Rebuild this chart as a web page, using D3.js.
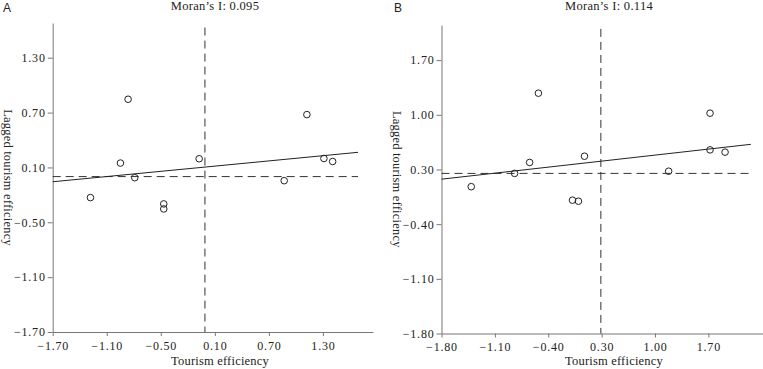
<!DOCTYPE html>
<html>
<head>
<meta charset="utf-8">
<script src="https://cdn.jsdelivr.net/npm/d3@7"></script>
<style>
  body { margin: 0; background: #fff; }
  text { font-family: "Liberation Serif", "Times New Roman", serif; fill: #222; }
</style>
</head>
<body>
<div id="vis"></div>
<script>
const FRAME_WIDTH = 763;
const FRAME_HEIGHT = 369;

// panel A data
const A_X = [-0.863, 1.122, -0.948, -0.074, -0.789, 0.870, 1.311, 1.408, -1.281, -0.467, -0.467];
const A_Y = [0.846, 0.678, 0.148, 0.195, -0.012, -0.045, 0.198, 0.165, -0.230, -0.299, -0.354];
const A_TICKS = [-1.70, -1.10, -0.50, 0.10, 0.70, 1.30];
const A_FIT = {slope: 0.095, intercept: 0.105};
const A_MEAN = {x: -0.01, y: 0.0};

// panel B data
const B_X = [-0.529, 1.722, 1.722, 1.919, 0.075, -0.644, -0.841, 1.179, -1.410, -0.082, -0.004];
const B_Y = [1.277, 1.021, 0.551, 0.522, 0.470, 0.390, 0.250, 0.278, 0.080, -0.093, -0.106];
const B_TICKS = [-1.80, -1.10, -0.40, 0.30, 1.00, 1.70];
const B_FIT = {slope: 0.11, intercept: 0.374};
const B_MEAN = {x: 0.29, y: 0.25};

const svg = d3.select("#vis")
    .append("svg")
    .attr("width", FRAME_WIDTH)
    .attr("height", FRAME_HEIGHT);

// draw one Moran scatter panel
function panel(opt) {
    const X_SCALE = d3.scaleLinear().domain(opt.xDomain).range([opt.left, opt.right]);
    const Y_SCALE = d3.scaleLinear().domain(opt.yDomain).range([opt.bottom, opt.top]);
    const g = svg.append("g");

    // axes
    const xAxis = g.append("g")
        .attr("transform", "translate(0," + opt.bottom + ")")
        .call(d3.axisBottom(X_SCALE).tickValues(opt.ticks).tickFormat(d3.format(".2f"))
            .tickSize(4).tickSizeOuter(0).tickPadding(5));
    const yAxis = g.append("g")
        .attr("transform", "translate(" + opt.left + ",0)")
        .call(d3.axisLeft(Y_SCALE).tickValues(opt.ticks).tickFormat(d3.format(".2f"))
            .tickSize(5).tickSizeOuter(0).tickPadding(2));
    [xAxis, yAxis].forEach(a => {
        a.selectAll("path, line").attr("stroke", "#777");
        a.selectAll("text").attr("font-size", 12).attr("fill", "#333")
            .style("letter-spacing", "0.8px");
    });

    // mean lines
    g.append("line")
        .attr("x1", X_SCALE(opt.mean.x)).attr("x2", X_SCALE(opt.mean.x))
        .attr("y1", Y_SCALE(opt.vLine[1])).attr("y2", Y_SCALE(opt.yDomain[0]))
        .attr("stroke", "#333").attr("stroke-dasharray", "8,5");
    g.append("line")
        .attr("x1", X_SCALE(opt.xDomain[0])).attr("x2", X_SCALE(opt.lineEnd))
        .attr("y1", Y_SCALE(opt.mean.y)).attr("y2", Y_SCALE(opt.mean.y))
        .attr("stroke", "#333").attr("stroke-dasharray", "8,5");

    // regression line
    const x0 = opt.xDomain[0], x1 = opt.lineEnd;
    g.append("line")
        .attr("x1", X_SCALE(x0)).attr("y1", Y_SCALE(opt.fit.intercept + opt.fit.slope * x0))
        .attr("x2", X_SCALE(x1)).attr("y2", Y_SCALE(opt.fit.intercept + opt.fit.slope * x1))
        .attr("stroke", "#222").attr("stroke-width", 1);

    // points
    g.selectAll(".pt")
        .data(opt.xs.map((x, i) => ({x: x, y: opt.ys[i]})))
        .enter()
        .append("circle")
        .attr("cx", d => X_SCALE(d.x))
        .attr("cy", d => Y_SCALE(d.y))
        .attr("r", 3.3)
        .attr("fill", "none")
        .attr("stroke", "#222");

    // labels
    g.append("text").attr("x", opt.letterX).attr("y", 12)
        .style("font-family", "Liberation Sans, Arial, sans-serif")
        .attr("font-size", 12).text(opt.letter);
    g.append("text").attr("x", opt.titleX).attr("y", 10)
        .attr("text-anchor", "middle").attr("font-size", 12.5)
        .style("letter-spacing", "0.3px").text(opt.title);
    g.append("text").attr("x", opt.titleX + 5).attr("y", 365)
        .attr("text-anchor", "middle").attr("font-size", 12.5)
        .style("letter-spacing", "0.2px").text("Tourism efficiency");
    g.append("text")
        .attr("transform", "translate(" + opt.yLabelX + "," + ((opt.top + opt.bottom) / 2) + ") rotate(90)")
        .attr("text-anchor", "middle").attr("font-size", 12.5)
        .style("letter-spacing", "0.2px").text("Lagged tourism efficiency");
}

panel({
    xs: A_X, ys: A_Y, ticks: A_TICKS, fit: A_FIT, mean: A_MEAN,
    xDomain: [-1.70, 1.856], yDomain: [-1.70, 1.68], lineEnd: 1.69, vLine: [-1.70, 1.63],
    left: 52.7, right: 373, top: 23, bottom: 332,
    letter: "A", letterX: 3, title: "Moran\u2019s I: 0.095", titleX: 215, yLabelX: 3.5
});

panel({
    xs: B_X, ys: B_Y, ticks: B_TICKS, fit: B_FIT, mean: B_MEAN,
    xDomain: [-1.80, 2.41], yDomain: [-1.80, 2.15], lineEnd: 2.257, vLine: [-1.80, 2.10],
    left: 441.5, right: 762.5, top: 25, bottom: 333.5,
    letter: "B", letterX: 394, title: "Moran\u2019s I: 0.114", titleX: 609, yLabelX: 392.5
});
</script>
</body>
</html>
